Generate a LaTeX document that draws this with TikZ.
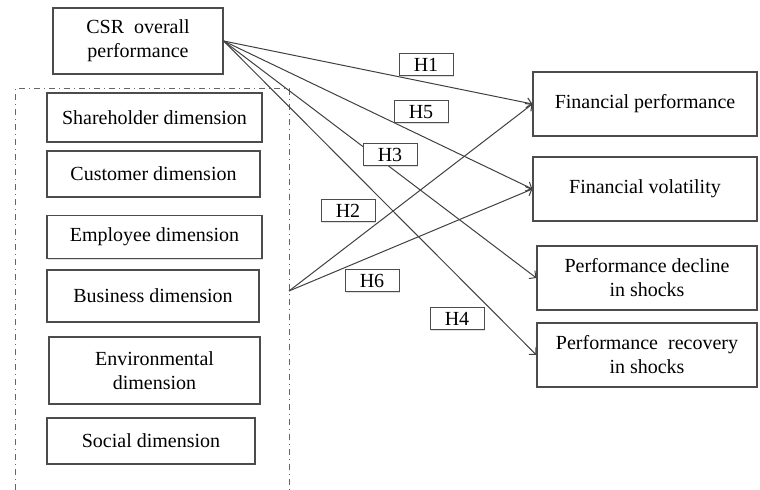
\documentclass[tikz,border=0pt]{standalone}
\usepackage{fontspec}
\setmainfont{Liberation Serif}
\usetikzlibrary{arrows.meta,shadows}

\tikzset{
	varbox/.style={draw=black!70, line width=0.6pt, fill=white, align=center,
		inner sep=1pt, drop shadow={shadow xshift=0.6pt, shadow yshift=-0.6pt, opacity=0.25}},
	hypbox/.style={draw=black!70, line width=0.5pt, fill=white, minimum width=27pt,
		minimum height=11pt, inner sep=0pt,
		drop shadow={shadow xshift=0.5pt, shadow yshift=-0.5pt, opacity=0.25}},
	link/.style={draw=black!75, line width=0.5pt, -{Straight Barb[length=2.5pt, width=5pt]}}
}

\begin{document}
\begin{tikzpicture}[x=0.5pt, y=-0.5pt]

		\useasboundingbox (0,0) rectangle (760,490);

		% frame of the dimensions

		\draw[black!60, line width=0.5pt, dash dot] (15,490) -- (15,89) -- (289,89) -- (289,490);

		% define point

		\coordinate (dimout) at (289,291);

		% variables

		\node[varbox, minimum width=85pt, minimum height=33pt] (csr) at (138,41) {CSR\ \ overall\\performance};

		\node[varbox, minimum width=107.5pt, minimum height=24.5pt] (share) at (154.5,117.5) {Shareholder dimension};

		\node[varbox, minimum width=106.5pt, minimum height=23pt] (cust) at (153.5,174) {Customer dimension};

		\node[varbox, minimum width=107.5pt, minimum height=21.5pt] (empl) at (154.5,237) {Employee dimension};

		\node[varbox, minimum width=106pt, minimum height=26pt] (busi) at (153,296) {Business dimension};

		\node[varbox, minimum width=105.5pt, minimum height=33.5pt] (envi) at (154.5,370.5) {Environmental\\dimension};

		\node[varbox, minimum width=104pt, minimum height=23pt] (soci) at (151,441) {Social dimension};

		\node[varbox, minimum width=112pt, minimum height=32pt] (finperf) at (645,104) {Financial performance};

		\node[varbox, minimum width=112pt, minimum height=32pt] (finvol) at (645,189) {Financial volatility};

		\node[varbox, minimum width=110pt, minimum height=32pt] (decline) at (647,278) {Performance decline\\in shocks};

		\node[varbox, minimum width=110pt, minimum height=32pt] (recover) at (647,355) {Performance\ \ recovery\\in shocks};

		% paths

		\draw[link] (csr.east) -- (finperf.west);

		\draw[link] (csr.east) -- (finvol.west);

		\draw[link] (csr.east) -- (decline.west);

		\draw[link] (csr.east) -- (recover.west);

		\draw[link] (dimout) -- (finperf.west);

		\draw[link] (dimout) -- (finvol.west);

		% hypotheses

		\node[hypbox] (h1) at (426,65) {H1};

		\node[hypbox] (h5) at (421,112) {H5};

		\node[hypbox] (h3) at (390,155) {H3};

		\node[hypbox] (h2) at (348,211) {H2};

		\node[hypbox] (h6) at (372,281) {H6};

		\node[hypbox] (h4) at (457,319) {H4};

	\end{tikzpicture}
\end{document}
